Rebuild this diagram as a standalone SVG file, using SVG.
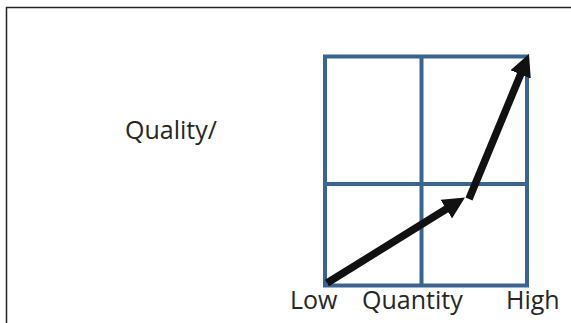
<svg xmlns="http://www.w3.org/2000/svg" width="571" height="323" viewBox="0 0 571 323">
<style>
.lbl{font-family:"Open Sans","Liberation Sans",sans-serif;font-size:25px;fill:#262626}
.grid{fill:none;stroke:#3A6591;stroke-width:4}
.arr{stroke:#111;stroke-width:7.5;fill:none}
</style>
<defs>
<marker id="head" markerUnits="userSpaceOnUse" markerWidth="22" markerHeight="22" refX="11" refY="11" orient="auto" viewBox="0 0 22 22">
<path d="M0,0 L22,11 L0,22 z" fill="#111"/>
</marker>
</defs>
<rect x="6.5" y="7.5" width="600" height="400" fill="#fff" stroke="#222" stroke-width="1.5"/>
<g id="grid">
<rect class="grid" x="325" y="56.5" width="202" height="229"/>
<line class="grid" x1="421.5" y1="56.5" x2="421.5" y2="285.5"/>
<line class="grid" x1="325" y1="184" x2="527" y2="184"/>
</g>
<g id="connectors">
<line class="arr" x1="327" y1="283" x2="455.6" y2="203.3" marker-end="url(#head)"/>
<line class="arr" x1="469" y1="199" x2="524.8" y2="64.2" marker-end="url(#head)"/>
</g>
<g id="labels">
<text class="lbl" x="125" y="139">Quality/</text>
<text class="lbl" x="290" y="309">Low</text>
<text class="lbl" x="362" y="309">Quantity</text>
<text class="lbl" x="506" y="309">High</text>
</g>
</svg>
